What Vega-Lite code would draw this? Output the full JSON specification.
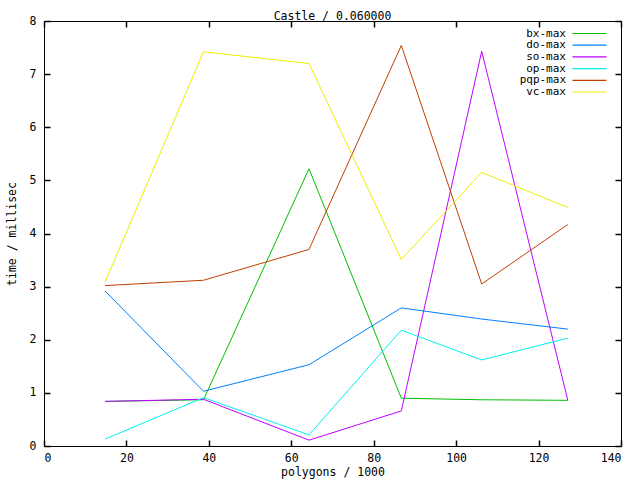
{
  "$schema": "https://vega.github.io/schema/vega-lite/v6.json",
  "width": 577,
  "height": 425,
  "autosize": "none",
  "padding": {"left": 44, "top": 21, "right": 19, "bottom": 34},
  "background": "white",
  "title": {"text": "Castle / 0.060000", "font": "DejaVu Sans Mono", "fontSize": 11.5, "fontWeight": "normal", "color": "black", "offset": -7, "anchor": "middle"},
  "config": {
    "view": {"stroke": "black", "strokeWidth": 1},
    "axis": {"labelFont": "DejaVu Sans Mono", "labelFontSize": 11.5, "labelColor": "black", "titleFont": "DejaVu Sans Mono", "titleFontSize": 11.5, "titleFontWeight": "normal", "titleColor": "black", "grid": false, "domain": false, "ticks": true, "tickColor": "#000000", "tickSize": 6, "tickWidth": 1.5, "offset": -6, "zindex": 1},
    "legend": {"labelFont": "DejaVu Sans Mono", "labelFontSize": 11, "labelColor": "black"}
  },
  "data": {"values": [
    {"series": "bx-max", "x": 14.8, "y": 0.84},
    {"series": "bx-max", "x": 38.7, "y": 0.87},
    {"series": "bx-max", "x": 64.3, "y": 5.22},
    {"series": "bx-max", "x": 86.7, "y": 0.9},
    {"series": "bx-max", "x": 106.2, "y": 0.87},
    {"series": "bx-max", "x": 127.1, "y": 0.86},
    {"series": "do-max", "x": 14.8, "y": 2.92},
    {"series": "do-max", "x": 38.7, "y": 1.03},
    {"series": "do-max", "x": 64.3, "y": 1.53},
    {"series": "do-max", "x": 86.7, "y": 2.6},
    {"series": "do-max", "x": 106.2, "y": 2.39},
    {"series": "do-max", "x": 127.1, "y": 2.2},
    {"series": "so-max", "x": 14.8, "y": 0.84},
    {"series": "so-max", "x": 38.7, "y": 0.88},
    {"series": "so-max", "x": 64.3, "y": 0.11},
    {"series": "so-max", "x": 86.7, "y": 0.66},
    {"series": "so-max", "x": 106.2, "y": 7.43},
    {"series": "so-max", "x": 127.1, "y": 0.86},
    {"series": "op-max", "x": 14.8, "y": 0.13},
    {"series": "op-max", "x": 38.7, "y": 0.91},
    {"series": "op-max", "x": 64.3, "y": 0.21},
    {"series": "op-max", "x": 86.7, "y": 2.18},
    {"series": "op-max", "x": 106.2, "y": 1.62},
    {"series": "op-max", "x": 127.1, "y": 2.03},
    {"series": "pqp-max", "x": 14.8, "y": 3.02},
    {"series": "pqp-max", "x": 38.7, "y": 3.12},
    {"series": "pqp-max", "x": 64.3, "y": 3.7},
    {"series": "pqp-max", "x": 86.7, "y": 7.54},
    {"series": "pqp-max", "x": 106.2, "y": 3.05},
    {"series": "pqp-max", "x": 127.1, "y": 4.17},
    {"series": "vc-max", "x": 14.8, "y": 3.08},
    {"series": "vc-max", "x": 38.7, "y": 7.42},
    {"series": "vc-max", "x": 64.3, "y": 7.2},
    {"series": "vc-max", "x": 86.7, "y": 3.51},
    {"series": "vc-max", "x": 106.2, "y": 5.15},
    {"series": "vc-max", "x": 127.1, "y": 4.49}
  ]},
  "layer": [
    {
      "mark": {"type": "line", "strokeWidth": 1, "interpolate": "linear"},
      "encoding": {
        "x": {"field": "x", "type": "quantitative", "scale": {"domain": [0, 140], "nice": false, "zero": false}, "axis": {"values": [0, 20, 40, 60, 80, 100, 120, 140], "title": "polygons / 1000", "labelPadding": 6, "titlePadding": 3}},
        "y": {"field": "y", "type": "quantitative", "scale": {"domain": [0, 8], "nice": false}, "axis": {"values": [0, 1, 2, 3, 4, 5, 6, 7, 8], "title": "time / millisec", "labelPadding": 8, "titlePadding": 12}},
        "color": {"field": "series", "type": "nominal", "scale": {"domain": ["bx-max", "do-max", "so-max", "op-max", "pqp-max", "vc-max"], "range": ["#00c000", "#0080ff", "#c000ff", "#00eeee", "#c04000", "#eeee00"]},
          "legend": {"title": null, "orient": "none", "legendX": 540, "legendY": 7, "symbolType": "M-4,0H4", "symbolSize": 72.25, "symbolStrokeWidth": 1.2, "symbolFillColor": "transparent", "labelAlign": "right", "labelOffset": -29, "rowPadding": -0.3, "symbolOffset": 0, "padding": 0}}
      }
    },
    {
      "mark": {"type": "line", "strokeOpacity": 0},
      "encoding": {
        "x": {"field": "x", "type": "quantitative", "axis": {"orient": "top", "values": [0, 20, 40, 60, 80, 100, 120, 140], "labels": false, "title": null}},
        "y": {"field": "y", "type": "quantitative", "axis": {"orient": "right", "values": [0, 1, 2, 3, 4, 5, 6, 7, 8], "labels": false, "title": null}}
      }
    }
  ],
  "resolve": {"axis": {"x": "independent", "y": "independent"}}
}
